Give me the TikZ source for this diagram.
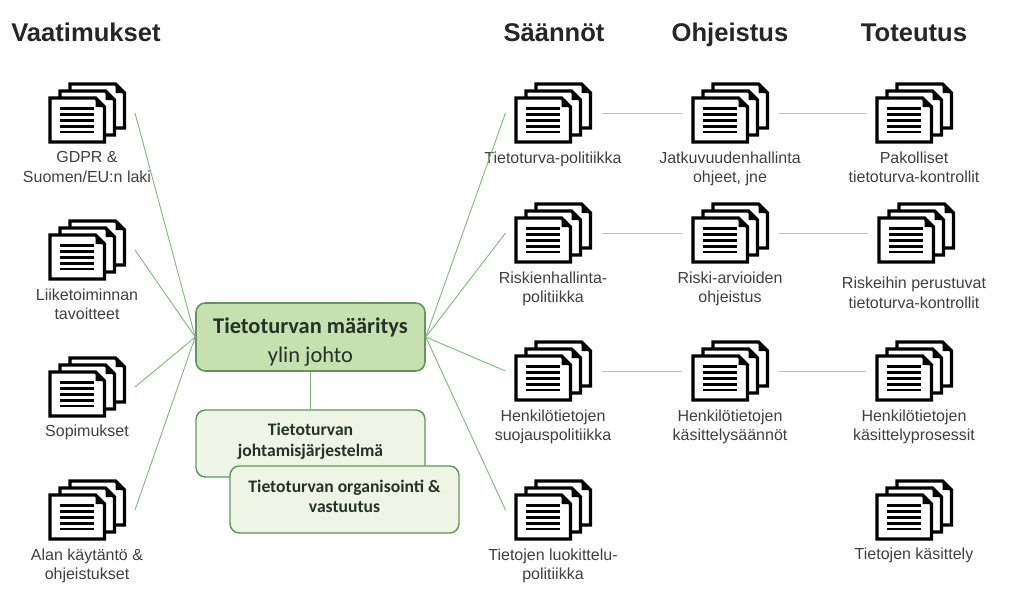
\documentclass[tikz,border=0pt]{standalone}
\usepackage{fontspec}
\usepackage{xcolor}
\setmainfont{Liberation Sans}
\newfontfamily\boxfont{Carlito}
\usetikzlibrary{calc,positioning}
\definecolor{linkGreen}{RGB}{130,185,125}
\definecolor{rowGreen}{RGB}{165,212,160}
\definecolor{edgeGreen}{RGB}{98,150,92}
\definecolor{mainGreen}{RGB}{198,224,176}
\definecolor{softGreen}{RGB}{238,245,230}
\definecolor{labelGrey}{RGB}{64,64,64}
\definecolor{boxInk}{RGB}{38,50,38}
\newcommand{\DocPage}[2]{%
  \draw[fill=white,line width=2.6pt,line join=miter] (#1,#2) -- ++(45.5,0) -- ++(9,9) -- ++(0,35) -- ++(-54.5,0) -- cycle;
  \fill (#1+45.5,#2) -- ++(9,9) -- ++(-9,0) -- cycle;}
\tikzset{
  x=.75pt,y=-.75pt,
  docicon/.pic={
    \node[minimum width=57.75pt,minimum height=45.75pt,inner sep=0pt,outer sep=0pt] (-box) {};
    \begin{scope}[shift={(-38.5,-30.5)}]
      \DocPage{21.5}{1.5}
      \DocPage{11.5}{8.5}
      \DocPage{1.5}{15.5}
      \foreach \ly in {26,32,38,44,49.5}{\draw[line width=1.6pt] (11,\ly) -- (45,\ly);}
    \end{scope}},
  doclabel/.style={align=center,inner sep=0pt,text=labelGrey,font=\fontsize{12}{14.6}\selectfont},
  headlabel/.style={anchor=base,inner sep=0pt,text=black!85,font=\bfseries\fontsize{19.2}{20}\selectfont},
  mainbox/.style={draw=edgeGreen,fill=mainGreen,line width=1.2pt,rounded corners=7pt,minimum width=171.75pt,minimum height=51pt,align=center,inner sep=0pt,text=boxInk,font=\boxfont\fontsize{16.8}{21.8}\selectfont},
  softbox/.style={draw=edgeGreen,fill=softGreen,line width=1.1pt,rounded corners=7pt,minimum width=171.75pt,minimum height=50.25pt,align=center,inner sep=0pt,text=boxInk,font=\boxfont\bfseries\fontsize{13.2}{15.5}\selectfont},
  link/.style={draw=linkGreen,line width=.7pt},
  rowlink/.style={draw=rowGreen,line width=.7pt,shorten <=7.5pt,shorten >=7.5pt,yshift=.75pt}
}
\begin{document}
\begin{tikzpicture}
\useasboundingbox (0,0) rectangle (1024,603);
% headings
\node[headlabel] (hVaat) at (86,41) {Vaatimukset};
\node[headlabel] (hSaan) at (554,41) {Säännöt};
\node[headlabel] (hOhje) at (730,41) {Ohjeistus};
\node[headlabel] (hTote) at (914,41) {Toteutus};
% requirements
\pic (vGdpr) at (87,113) {docicon};
\node[doclabel] (lGdpr) [below=6pt of vGdpr-box] {GDPR \&\\Suomen/EU:n laki};
\pic (vLiike) at (87,250) {docicon};
\node[doclabel] (lLiike) [below=6pt of vLiike-box] {Liiketoiminnan\\tavoitteet};
\pic (vSopi) at (87,387) {docicon};
\node[doclabel] (lSopi) [below=5.5pt of vSopi-box] {Sopimukset};
\pic (vAlan) at (87,510) {docicon};
\node[doclabel] (lAlan) [below=6pt of vAlan-box] {Alan käytäntö \&\\ohjeistukset};
% rules
\pic (sPol) at (553,113) {docicon};
\node[doclabel] (lPol) [below=6pt of sPol-box] {Tietoturva-politiikka};
\pic (sRisk) at (553,233) {docicon};
\node[doclabel] (lRisk) [below=6pt of sRisk-box] {Riskienhallinta-\\politiikka};
\pic (sHenk) at (553,371) {docicon};
\node[doclabel] (lHenk) [below=6pt of sHenk-box] {Henkilötietojen\\suojauspolitiikka};
\pic (sLuok) at (553,510) {docicon};
\node[doclabel] (lLuok) [below=6pt of sLuok-box] {Tietojen luokittelu-\\politiikka};
% guidance
\pic (oJatk) at (730,113) {docicon};
\node[doclabel] (lJatk) [below=6pt of oJatk-box] {Jatkuvuudenhallinta\\ohjeet, jne};
\pic (oRisk) at (730,233) {docicon};
\node[doclabel] (lORisk) [below=6pt of oRisk-box] {Riski-arvioiden\\ohjeistus};
\pic (oHenk) at (730,371) {docicon};
\node[doclabel] (lOHenk) [below=6pt of oHenk-box] {Henkilötietojen\\käsittelysäännöt};
% implementation
\pic (tPak) at (914,113) {docicon};
\node[doclabel] (lPak) [below=6pt of tPak-box] {Pakolliset\\tietoturva-kontrollit};
\pic (tRisk) at (916,233) {docicon};
\node[doclabel] (lTRisk) [below=10pt of tRisk-box,xshift=-1.5pt] {Riskeihin perustuvat\\tietoturva-kontrollit};
\pic (tHenk) at (914,371) {docicon};
\node[doclabel] (lTHenk) [below=6pt of tHenk-box] {Henkilötietojen\\käsittelyprosessit};
\pic (tKas) at (914,510) {docicon};
\node[doclabel] (lKas) [below=5pt of tKas-box] {Tietojen käsittely};
% centre boxes
\node[mainbox] (mTieto) at (310.5,337) {\rule{0pt}{19pt}\textbf{Tietoturvan määritys}\\ylin johto};
\node[softbox] (bJohto) at (310.5,443.5) {Tietoturvan\\johtamisjärjestelmä\rule[-6pt]{0pt}{6pt}};
\node[softbox] (bOrg) at (344.5,499.5) {Tietoturvan organisointi \&\\vastuutus\rule[-5pt]{0pt}{5pt}};
% connectors
\foreach \from in {vGdpr,vLiike,vSopi,vAlan}{\draw[link] ($(\from-box.east)+(9.5,0)$) -- (mTieto.west);}
\foreach \from in {sPol,sRisk,sHenk,sLuok}{\draw[link] ($(\from-box.west)+(-9,0)$) -- (mTieto.east);}
\draw[rowlink] (sPol-box) -- (oJatk-box);
\draw[rowlink,yshift=.75pt] (sRisk-box) -- (oRisk-box);
\draw[rowlink] (sHenk-box) -- (oHenk-box);
\draw[rowlink] (oJatk-box) -- (tPak-box);
\draw[rowlink,yshift=.75pt] (oRisk-box) -- (tRisk-box);
\draw[rowlink] (oHenk-box) -- (tHenk-box);
\draw[link,draw=edgeGreen!80] (mTieto.south) -- (bJohto.north);
\end{tikzpicture}
\end{document}
